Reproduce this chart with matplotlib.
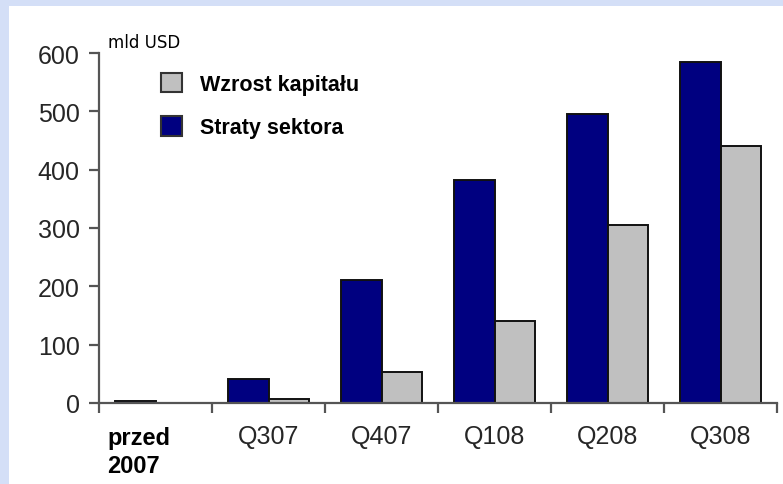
import matplotlib
matplotlib.use("Agg")
import matplotlib.pyplot as plt
import matplotlib.transforms as mtransforms
from matplotlib.patches import Rectangle, Patch
import numpy as np

categories = ["przed\n2007", "Q307", "Q407", "Q108", "Q208", "Q308"]
straty_sektora = [3, 42, 211, 382, 495, 585]
wzrost_kapitalu = [0, 7, 53, 141, 306, 441]
yticks = [0, 100, 200, 300, 400, 500, 600]
unit_label = "mld USD"
legend_labels = ["Wzrost kapitału", "Straty sektora"]

plt.rcParams['font.family'] = ['Liberation Sans', 'DejaVu Sans']

W, H = 783, 485
fig = plt.figure(figsize=(W / 100, H / 100), dpi=100)
fig.patch.set_facecolor('#d4dff7')
fig.patches.append(Rectangle((9 / W, 0), 1, (H - 7) / H, transform=fig.transFigure,
                             facecolor='white', edgecolor='none', zorder=-10))

ax = fig.add_axes([99 / W, (H - 404) / H, (777 - 99) / W, 350 / H])
ax.set_zorder(1)
ax.set_facecolor('none')

x = np.arange(len(categories))
bw = 0.354
navy = '#000080'
grey = '#c0c0c0'
edge = '#111111'
ax.bar(x - bw / 2, straty_sektora, bw, color=navy, edgecolor=edge, linewidth=1.4, zorder=2)
ax.bar(x + bw / 2, wzrost_kapitalu, bw, color=grey, edgecolor=edge, linewidth=1.4, zorder=2)

ax.set_xlim(-0.5, len(categories) - 0.5)
ax.set_ylim(0, 600)

for s in ['top', 'right']:
    ax.spines[s].set_visible(False)
for s in ['left', 'bottom']:
    ax.spines[s].set_color('#555555')
    ax.spines[s].set_linewidth(1.6)
    ax.spines[s].set_zorder(3)

ax.set_yticks(yticks)
ax.set_yticklabels([str(v) for v in yticks])
ax.tick_params(axis='y', direction='out', length=7, width=1.6, color='#555555',
               labelsize=18, labelcolor='#262626', pad=7)

ax.set_xticks(x)
ax.set_xticklabels(categories)
ax.set_xticks(np.arange(len(categories) + 1) - 0.5, minor=True)
ax.tick_params(axis='x', which='major', length=0, labelsize=18, labelcolor='#262626', pad=15)
ax.tick_params(axis='x', which='minor', direction='out', length=7, width=1.6, color='#555555')

first = ax.get_xticklabels()[0]
first.set_fontweight('bold')
first.set_fontsize(17)
first.set_color('black')
first.set_ha('left')
first.set_multialignment('left')
first.set_linespacing(1.3)
first.set_transform(first.get_transform() +
                    mtransforms.ScaledTranslation(-48 / 100, -2 / 100, fig.dpi_scale_trans))

fig.text(108 / W, 1 - 43 / H, unit_label, fontsize=12, family='DejaVu Sans',
         color='black', va='center', ha='left')

handles = [Patch(facecolor=grey, edgecolor='#333333', linewidth=1.5),
           Patch(facecolor=navy, edgecolor='#333333', linewidth=1.5)]
leg = fig.legend(handles, legend_labels, loc='upper left',
                 bbox_to_anchor=(150 / W, 1 - 63 / H), frameon=False,
                 prop={'weight': 'bold', 'size': 15.5}, handlelength=1.0, handleheight=1.0,
                 handletextpad=0.8, labelspacing=1.0, borderpad=0)

fig.savefig('out.png', dpi=100, facecolor=fig.get_facecolor())
